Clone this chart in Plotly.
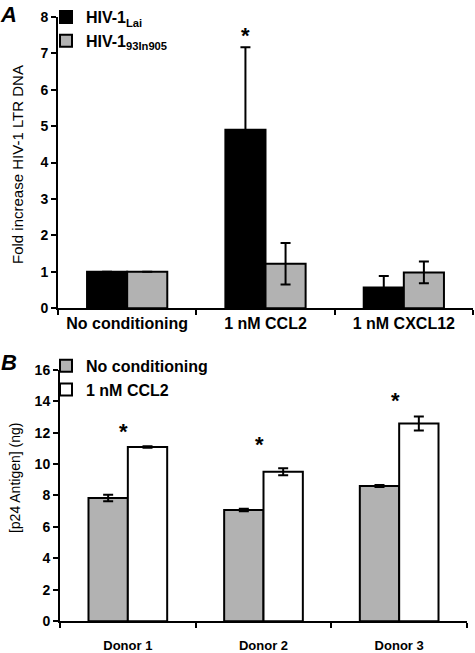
import plotly.graph_objects as go

# ---------------- data ----------------
a_categories = ["No conditioning", "1 nM CCL2", "1 nM CXCL12"]
a_lai = [1.0, 4.90, 0.57]
a_lai_err = [0.0, 2.27, 0.31]
a_93 = [1.0, 1.22, 0.98]
a_93_err = [0.0, 0.57, 0.30]
a_star_cat = "1 nM CCL2"
a_star_y = 7.08

b_categories = ["Donor 1", "Donor 2", "Donor 3"]
b_nocond = [7.84, 7.07, 8.60]
b_nocond_err = [0.20, 0.08, 0.06]
b_ccl2 = [11.08, 9.51, 12.58]
b_ccl2_err = [0.05, 0.22, 0.44]
b_star_y = [11.15, 10.35, 13.15]

a_yticks = list(range(0, 9))
b_yticks = list(range(0, 17, 2))

FONT = "Liberation Sans, Arial, sans-serif"
GRAY = "#b2b2b2"
W, H = 475, 653

def px_x(p):
    return p / W

def px_y(p):
    return 1 - p / H

def bold(size):
    return dict(family=FONT, size=size, color="black", weight="bold")

fig = go.Figure()

err_style = dict(type="data", visible=True, color="black", thickness=2, width=5)

fig.add_trace(go.Bar(
    x=a_categories, y=a_lai, name="HIV-1<sub>Lai</sub>",
    marker=dict(color="black", line=dict(color="black", width=2)),
    error_y=dict(array=a_lai_err, **err_style),
    xaxis="x", yaxis="y", legend="legend", offsetgroup="a1"))
fig.add_trace(go.Bar(
    x=a_categories, y=a_93, name="HIV-1<sub>93In905</sub>",
    marker=dict(color=GRAY, line=dict(color="black", width=2)),
    error_y=dict(array=a_93_err, **err_style),
    xaxis="x", yaxis="y", legend="legend", offsetgroup="a2"))

fig.add_trace(go.Bar(
    x=b_categories, y=b_nocond, name="No conditioning",
    marker=dict(color=GRAY, line=dict(color="black", width=2)),
    error_y=dict(array=b_nocond_err, **err_style),
    xaxis="x2", yaxis="y2", legend="legend2", offsetgroup="b1"))
fig.add_trace(go.Bar(
    x=b_categories, y=b_ccl2, name="1 nM CCL2",
    marker=dict(color="white", line=dict(color="black", width=2)),
    error_y=dict(array=b_ccl2_err, **err_style),
    xaxis="x2", yaxis="y2", legend="legend2", offsetgroup="b2"))

axis_common = dict(
    showline=True, linecolor="black", linewidth=2, showgrid=False, zeroline=False,
    ticks="outside", ticklen=5, tickwidth=2, tickcolor="black", automargin=False,
)

fig.update_layout(
    width=W, height=H,
    margin=dict(l=0, r=0, t=0, b=0),
    paper_bgcolor="white", plot_bgcolor="white",
    barmode="group", bargap=0.42, bargroupgap=0,
    font=dict(family=FONT, color="black"),
    xaxis=dict(domain=[px_x(58), px_x(473)], anchor="y", tickson="boundaries",
               tickfont=bold(16), **axis_common),
    yaxis=dict(domain=[px_y(306), px_y(13)], anchor="x", range=[0, 8],
               tickvals=a_yticks, tickfont=bold(14), **axis_common),
    xaxis2=dict(domain=[px_x(60), px_x(467)], anchor="y2", tickson="boundaries",
                ticklabelstandoff=11, tickfont=bold(13), **axis_common),
    yaxis2=dict(domain=[px_y(621), px_y(368)], anchor="x2", range=[0, 16],
                tickvals=b_yticks, tickfont=bold(14), **axis_common),
    legend=dict(x=px_x(46), y=px_y(-4), xanchor="left", yanchor="top",
                bgcolor="rgba(0,0,0,0)", itemwidth=30, tracegroupgap=0,
                font=bold(16)),
    legend2=dict(x=px_x(46), y=px_y(347), xanchor="left", yanchor="top",
                 bgcolor="rgba(0,0,0,0)", itemwidth=30, tracegroupgap=0,
                 font=bold(16)),
    showlegend=True,
)

annotations = []
star_idx = a_categories.index(a_star_cat)
annotations.append(dict(x=star_idx - 0.145, y=a_star_y, xref="x", yref="y", text="*",
                        showarrow=False, yanchor="bottom", font=bold(22)))
for i, yv in enumerate(b_star_y):
    annotations.append(dict(x=i - 0.03, y=yv, xref="x2", yref="y2", text="*",
                            showarrow=False, yanchor="bottom", font=bold(22)))
annotations.append(dict(x=px_x(17), y=px_y(162), xref="paper", yref="paper",
                        xanchor="center", yanchor="middle",
                        text="Fold increase HIV-1 LTR DNA", textangle=-90, showarrow=False,
                        font=dict(family=FONT, size=15, color="black")))
annotations.append(dict(x=px_x(15), y=px_y(477), xref="paper", yref="paper",
                        xanchor="center", yanchor="middle",
                        text="[p24 Antigen] (ng)", textangle=-90, showarrow=False,
                        font=dict(family=FONT, size=14, color="black")))
annotations.append(dict(x=px_x(8), y=px_y(11), xref="paper", yref="paper", text="<i>A</i>",
                        xanchor="center", yanchor="middle", showarrow=False, font=bold(22)))
annotations.append(dict(x=px_x(9), y=px_y(361), xref="paper", yref="paper", text="<i>B</i>",
                        xanchor="center", yanchor="middle", showarrow=False, font=bold(22)))
fig.update_layout(annotations=annotations)

fig.write_html("out.html", config={"displayModeBar": False},
               post_script="document.body.style.margin='0';document.body.style.overflow='hidden';")
